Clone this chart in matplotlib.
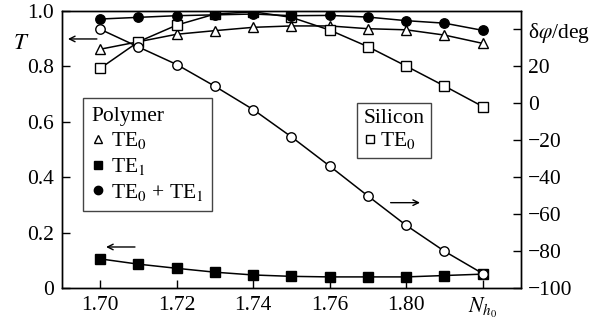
import matplotlib
matplotlib.use("Agg")
import matplotlib.pyplot as plt
from matplotlib.lines import Line2D

plt.rcParams['font.family'] = ['Liberation Serif', 'DejaVu Serif']
plt.rcParams['mathtext.fontset'] = 'stix'

# Data
n_h0 = [1.70, 1.71, 1.72, 1.73, 1.74, 1.75, 1.76, 1.77, 1.78, 1.79, 1.80]
poly_te0 = [0.862, 0.889, 0.916, 0.929, 0.941, 0.946, 0.946, 0.936, 0.932, 0.913, 0.883]
poly_te1 = [0.105, 0.086, 0.071, 0.057, 0.047, 0.042, 0.040, 0.040, 0.040, 0.045, 0.050]
poly_sum = [0.971, 0.977, 0.983, 0.986, 0.989, 0.983, 0.984, 0.978, 0.965, 0.956, 0.930]
si_te0 = [0.793, 0.889, 0.949, 0.989, 0.997, 0.977, 0.931, 0.871, 0.801, 0.729, 0.655]
dphi = [40.1, 30.5, 21.0, 9.2, -3.4, -18.2, -34.0, -50.2, -66.1, -80.1, -92.2]

x_ticks = [1.70, 1.72, 1.74, 1.76, 1.78, 1.80]
x_ticklabels = ['1.70', '1.72', '1.74', '1.76', '1.80', r'$N_{h_0}$']
y_ticks = [0, 0.2, 0.4, 0.6, 0.8, 1.0]
y_ticklabels = ['0', '0.2', '0.4', '0.6', '0.8', '1.0']
y2_ticks = [-100, -80, -60, -40, -20, 0, 20, 40]
y2_ticklabels = ['\u2212100', '\u221280', '\u221260', '\u221240', '\u221220', '0', '20', 'δ$\\varphi$/deg']

FS = 15.5
fig = plt.figure(figsize=(6.03, 3.23), dpi=100)
ax = fig.add_axes([0.1028, 0.1084, 0.7612, 0.8576])
ax2 = ax.twinx()

lw = 1.1
ms = 6.8
ax.plot(n_h0, poly_te0, '-', color='black', lw=lw, marker='^', ms=ms, mfc='white', mec='black', mew=1.0, zorder=3)
ax.plot(n_h0, poly_te1, '-', color='black', lw=lw, marker='s', ms=ms, mfc='black', mec='black', zorder=3)
ax.plot(n_h0, poly_sum, '-', color='black', lw=lw, marker='o', ms=ms, mfc='black', mec='black', zorder=4)
ax.plot(n_h0, si_te0, '-', color='black', lw=lw, marker='s', ms=ms, mfc='white', mec='black', mew=1.0, zorder=3)
ax2.plot(n_h0, dphi, '-', color='black', lw=lw, marker='o', ms=ms, mfc='white', mec='black', mew=1.0, zorder=3)

ax.set_xlim(1.69, 1.81)
ax.set_ylim(0, 1.0)
ax2.set_ylim(-100, 50)

ax.set_xticks(x_ticks)
ax.set_xticklabels(x_ticklabels)
ax.set_yticks(y_ticks)
ax.set_yticklabels(y_ticklabels)
ax2.set_yticks(y2_ticks)
ax2.set_yticklabels(y2_ticklabels)

for a in (ax, ax2):
    for s in a.spines.values():
        s.set_linewidth(1.0)
ax.tick_params(axis='both', direction='in', length=5.5, width=1.0, labelsize=FS, pad=6, top=False, right=False)
ax2.tick_params(axis='y', direction='in', length=5.5, width=1.0, labelsize=FS, pad=5)

ax.text(-0.089, 0.884, r'$T$', transform=ax.transAxes, fontsize=FS + 1, ha='center', va='center')

# Arrows
ap = dict(arrowstyle='->', lw=1.0, color='black', shrinkA=0, shrinkB=0, mutation_scale=10)
ax.annotate('', xy=(0.013, 0.899), xytext=(0.076, 0.899), xycoords='axes fraction', arrowprops=ap)
ax.annotate('', xy=(0.096, 0.148), xytext=(0.159, 0.148), xycoords='axes fraction', arrowprops=ap)
ax.annotate('', xy=(0.780, 0.308), xytext=(0.716, 0.308), xycoords='axes fraction', arrowprops=ap)

# Legends
h1 = [Line2D([], [], ls='none', marker='^', ms=6, mfc='white', mec='black', color='black'),
      Line2D([], [], ls='none', marker='s', ms=6, mfc='black', mec='black', color='black'),
      Line2D([], [], ls='none', marker='o', ms=6, mfc='black', mec='black', color='black')]
l1 = ['TE$_0$', 'TE$_1$', 'TE$_0$ + TE$_1$']
leg1 = ax2.legend(h1, l1, title='Polymer', loc='upper left', bbox_to_anchor=(0.0458, 0.686),
                  borderaxespad=0, fontsize=FS, title_fontsize=FS, frameon=True, fancybox=False,
                  edgecolor='#444444', framealpha=1, handlelength=0.6, handletextpad=0.3,
                  labelspacing=0.22, borderpad=0.4, alignment='left')
leg1.get_frame().set_linewidth(1.0)
ax2.add_artist(leg1)
h2 = [Line2D([], [], ls='none', marker='s', ms=6, mfc='white', mec='black', color='black')]
leg2 = ax2.legend(h2, ['TE$_0$'], title='Silicon', loc='upper left', bbox_to_anchor=(0.642, 0.669),
                  borderaxespad=0, fontsize=FS, title_fontsize=FS, frameon=True, fancybox=False,
                  edgecolor='#444444', framealpha=1, handlelength=0.6, handletextpad=0.2,
                  labelspacing=0.1, borderpad=0.3, alignment='left')
leg2.get_frame().set_linewidth(1.0)

fig.savefig('out.png', dpi=100)
